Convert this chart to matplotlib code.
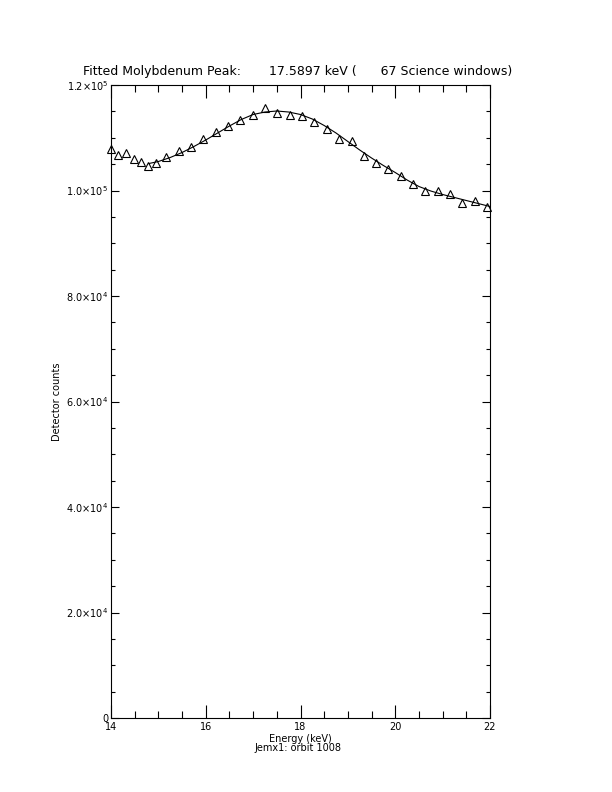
import matplotlib
matplotlib.use("Agg")
import matplotlib.pyplot as plt
from matplotlib.ticker import MultipleLocator, FixedLocator

# measured spectrum points (energy in keV, detector counts)
energy = [14.000, 14.154, 14.310, 14.479, 14.633, 14.787, 14.950, 15.161,
          15.429, 15.689, 15.936, 16.210, 16.463, 16.723, 16.991, 17.251,
          17.510, 17.772, 18.032, 18.291, 18.553, 18.819, 19.077, 19.340,
          19.594, 19.853, 20.121, 20.381, 20.634, 20.902, 21.162, 21.415,
          21.677, 21.937]
counts = [107866, 106729, 107051, 105970, 105458, 104700, 105155, 106349,
          107486, 108245, 109704, 111088, 112283, 113420, 114311, 115638,
          114747, 114368, 114121, 112984, 111714, 109704, 109382, 106538,
          105268, 104131, 102690, 101173, 99962, 99903, 99335, 97685,
          98008, 96929]

# fitted curve
fit_energy = [14.8, 15.0, 15.25, 15.5, 15.75, 16.0, 16.25, 16.5, 16.75,
              17.0, 17.25, 17.5, 17.75, 18.0, 18.25, 18.5, 18.75, 19.0,
              19.25, 19.5, 19.75, 20.0, 20.25, 20.5, 20.75, 21.0, 21.25,
              21.5, 21.75, 22.0]
fit_counts = [105117, 105496, 106254, 107202, 108339, 109571, 110898, 112225,
              113458, 114406, 114879, 115069, 114879, 114406, 113552, 112320,
              110898, 109287, 107676, 106159, 104737, 103410, 101989, 100757,
              99903, 99240, 98671, 98102, 97534, 96965]

y_ticks = [0, 20000, 40000, 60000, 80000, 100000, 120000]
y_tick_labels = ["0", r"$2.0{\times}10^{4}$", r"$4.0{\times}10^{4}$",
                 r"$6.0{\times}10^{4}$", r"$8.0{\times}10^{4}$",
                 r"$1.0{\times}10^{5}$", r"$1.2{\times}10^{5}$"]
x_ticks = [14, 16, 18, 20, 22]

title = "Fitted Molybdenum Peak:       17.5897 keV (      67 Science windows)"

fig = plt.figure(figsize=(6.12, 7.92), dpi=100)
ax = fig.add_axes([111 / 612, 74 / 792, 379 / 612, 633 / 792])

ax.plot(fit_energy, fit_counts, color="black", lw=0.8)
ax.plot(energy, counts, ls="none", marker="^", ms=5.5, mfc="none",
        mec="black", mew=0.8, clip_on=False)

ax.set_xlim(14, 22)
ax.set_ylim(0, 120000)
ax.xaxis.set_major_locator(FixedLocator(x_ticks))
ax.xaxis.set_minor_locator(MultipleLocator(0.5))
ax.yaxis.set_major_locator(FixedLocator(y_ticks))
ax.yaxis.set_minor_locator(MultipleLocator(5000))
ax.set_yticklabels(y_tick_labels)

ax.tick_params(which="both", direction="in", top=True, right=True,
               labelsize=7, width=0.8, colors="black")
ax.tick_params(axis="x", which="major", length=9.2, pad=3)
ax.tick_params(axis="x", which="minor", length=4.8)
ax.tick_params(axis="y", which="major", length=5.8, pad=2)
ax.tick_params(axis="y", which="minor", length=2.9)
for s in ax.spines.values():
    s.set_linewidth(0.8)

ax.set_xlabel("Energy (keV)", fontsize=7, labelpad=1)
ax.set_ylabel("Detector counts", fontsize=7, labelpad=3)
fig.text(298 / 612, 1 - 748 / 792, "Jemx1: orbit 1008", fontsize=7,
         ha="center", va="center")
fig.text(298 / 612, 1 - 72 / 792, title, fontsize=9, ha="center",
         va="center")

fig.savefig("out.png", dpi=100)
